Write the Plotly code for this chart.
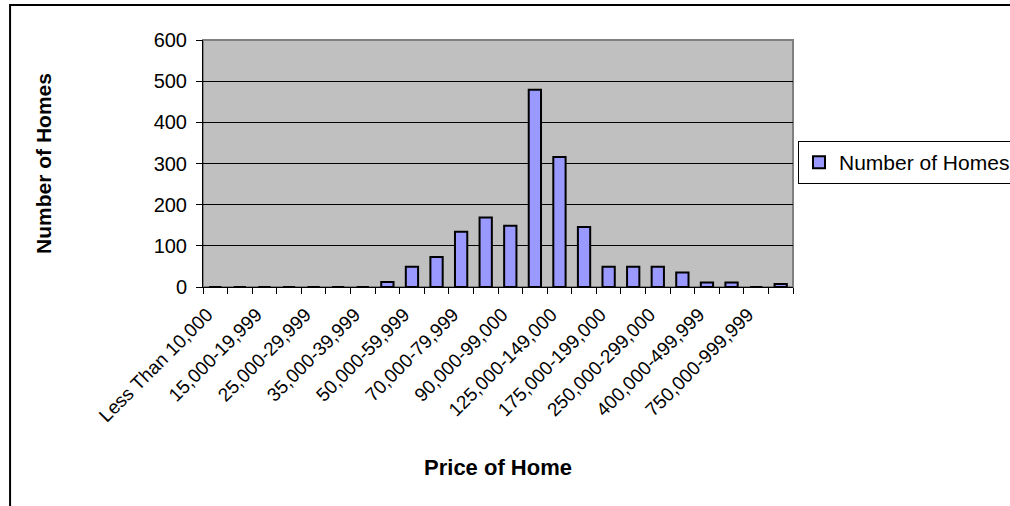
import plotly.graph_objects as go

categories = [
    "Less Than 10,000", "10,000-14,999", "15,000-19,999", "20,000-24,999",
    "25,000-29,999", "30,000-34,999", "35,000-39,999", "40,000-49,999",
    "50,000-59,999", "60,000-69,999", "70,000-79,999", "80,000-89,999",
    "90,000-99,000", "100,000-124,999", "125,000-149,000", "150,000-174,999",
    "175,000-199,000", "200,000-249,999", "250,000-299,000", "300,000-399,999",
    "400,000-499,999", "500,000-749,999", "750,000-999,999", "1,000,000 or more",
]
homes = [0, 0, 0, 0, 0, 0, 0, 12, 49, 73, 134, 169, 149, 479, 316, 146,
         49, 49, 49, 35, 11, 11, 0, 7]
y_ticks = [0, 100, 200, 300, 400, 500, 600]

n = len(categories)
positions = list(range(n))
label_pos = positions[::2]
label_text = categories[::2]
boundaries = [i - 0.5 for i in range(n + 1)]

FONT = "Liberation Sans, Arial, sans-serif"

fig = go.Figure()
fig.add_trace(go.Bar(
    x=positions, y=homes, name="Number of Homes",
    marker=dict(color="#9999FF", line=dict(color="black", width=2)),
    width=0.5, showlegend=True,
))
# invisible trace to drive the boundary-tick axis
fig.add_trace(go.Scatter(x=[positions[0]], y=[0], xaxis="x2", mode="markers",
                         marker=dict(opacity=0), showlegend=False, hoverinfo="skip"))

fig.update_layout(
    width=1010, height=506,
    margin=dict(l=203, r=217, t=40, b=219),
    paper_bgcolor="white", plot_bgcolor="#C0C0C0",
    font=dict(family=FONT, size=20, color="black"),
    showlegend=True,
    legend=dict(
        xref="container", yref="container",
        x=798 / 1010, y=1 - 162.5 / 506, xanchor="left", yanchor="middle",
        bordercolor="black", borderwidth=1, bgcolor="white",
        font=dict(family=FONT, size=21, color="black"),
        itemwidth=30,
    ),
    xaxis=dict(
        range=[-0.5, n - 0.5], tickmode="array", tickvals=label_pos, ticktext=label_text,
        tickangle=-45, ticks="", showgrid=False, zeroline=False,
        showline=True, linecolor="black", linewidth=1,
        tickfont=dict(family=FONT, size=19),
        ticklabelshift=-8, ticklabelstandoff=8,
        title=dict(text="<b>Price of Home</b>", font=dict(family=FONT, size=22), standoff=34),
        automargin=False,
    ),
    xaxis2=dict(
        overlaying="x", anchor="y", side="bottom",
        range=[-0.5, n - 0.5], tickmode="array", tickvals=boundaries,
        ticktext=["" for _ in boundaries], ticks="outside", ticklen=6,
        tickcolor="black", tickwidth=1, showgrid=False, zeroline=False,
        showline=False, automargin=False,
    ),
    yaxis=dict(
        range=[0, 600], tickmode="array", tickvals=y_ticks,
        ticks="outside", ticklen=6, tickcolor="black",
        showgrid=True, gridcolor="black", gridwidth=1,
        zeroline=False, showline=True, linecolor="black", linewidth=1,
        tickfont=dict(family=FONT, size=20), ticklabelstandoff=5,
        title=dict(text="<b>Number of Homes</b>", font=dict(family=FONT, size=21), standoff=96),
        automargin=False,
    ),
    bargap=0.5,
    shapes=[
        dict(type="rect", xref="paper", yref="paper", x0=0, x1=1, y0=0, y1=1,
             line=dict(color="#808080", width=2), layer="below"),
        dict(type="rect", xref="paper", yref="paper", x0=-0.327, x1=1.4, y0=-0.95, y1=1.142,
             line=dict(color="black", width=2), layer="above"),
    ],
)

fig.write_html("out.html")
